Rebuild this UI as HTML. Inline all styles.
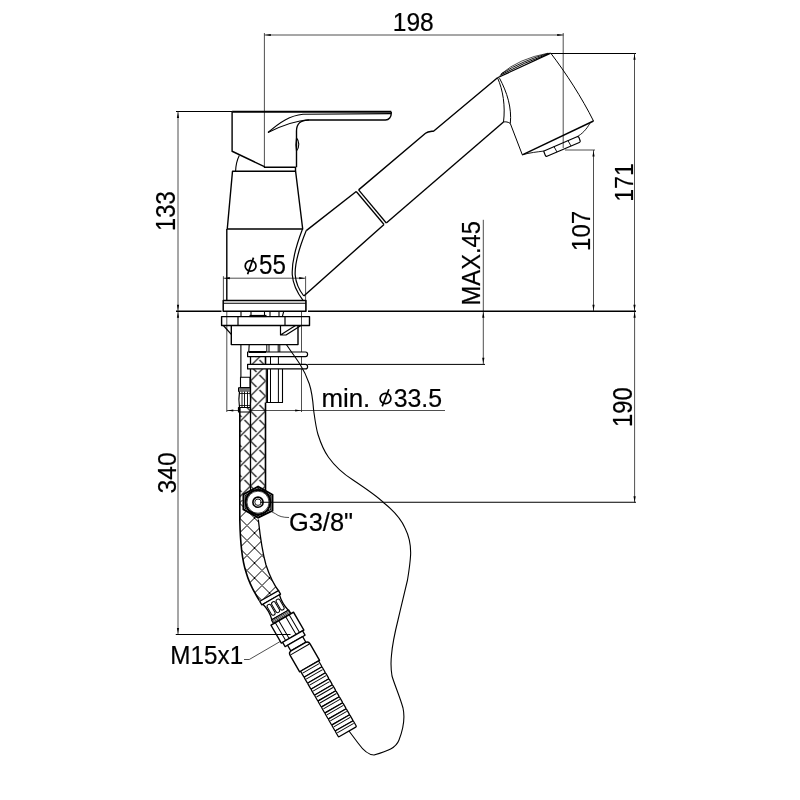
<!DOCTYPE html><html><head><meta charset="utf-8"><style>html,body{margin:0;padding:0;background:#fff;overflow:hidden}svg{display:block;will-change:transform}</style></head><body>
<svg width="800" height="800" viewBox="0 0 800 800">
<rect width="800" height="800" fill="#fff"/>
<line x1="264.4" y1="35" x2="563.5" y2="35" stroke="#222" stroke-width="0.8" />
<line x1="264.4" y1="33" x2="264.4" y2="167.5" stroke="#222" stroke-width="0.8" />
<line x1="563.2" y1="33" x2="563.2" y2="148" stroke="#222" stroke-width="0.8" />
<path d="M265.00,35.00 L270.80,33.90 L270.80,36.10Z" fill="#000" stroke="none"/>
<path d="M563.00,35.00 L557.20,36.10 L557.20,33.90Z" fill="#000" stroke="none"/>
<line x1="551" y1="53.5" x2="636" y2="53.5" stroke="#000" stroke-width="1.0" />
<line x1="634.5" y1="53.2" x2="634.5" y2="311" stroke="#222" stroke-width="0.8" />
<path d="M634.50,54.00 L635.60,59.80 L633.40,59.80Z" fill="#000" stroke="none"/>
<path d="M634.50,310.50 L633.40,304.70 L635.60,304.70Z" fill="#000" stroke="none"/>
<line x1="565" y1="150" x2="595" y2="150" stroke="#222" stroke-width="0.8" />
<line x1="593.5" y1="150" x2="593.5" y2="311" stroke="#222" stroke-width="0.8" />
<path d="M593.50,150.60 L594.60,156.40 L592.40,156.40Z" fill="#000" stroke="none"/>
<path d="M593.50,310.50 L592.40,304.70 L594.60,304.70Z" fill="#000" stroke="none"/>
<line x1="176" y1="111.5" x2="232" y2="111.5" stroke="#000" stroke-width="1.0" />
<line x1="178" y1="111.5" x2="178" y2="634.5" stroke="#222" stroke-width="0.8" />
<path d="M178.00,112.20 L179.10,118.00 L176.90,118.00Z" fill="#000" stroke="none"/>
<path d="M178.00,310.50 L176.90,304.70 L179.10,304.70Z" fill="#000" stroke="none"/>
<path d="M178.00,312.00 L179.10,317.80 L176.90,317.80Z" fill="#000" stroke="none"/>
<path d="M178.00,633.80 L176.90,628.00 L179.10,628.00Z" fill="#000" stroke="none"/>
<line x1="634.6" y1="311" x2="634.6" y2="502.5" stroke="#222" stroke-width="0.8" />
<path d="M634.60,312.00 L635.70,317.80 L633.50,317.80Z" fill="#000" stroke="none"/>
<path d="M634.60,502.00 L633.50,496.20 L635.70,496.20Z" fill="#000" stroke="none"/>
<line x1="483.3" y1="219.8" x2="483.3" y2="364.25" stroke="#222" stroke-width="0.8" />
<line x1="307.5" y1="364.4" x2="485" y2="364.4" stroke="#000" stroke-width="1.0" />
<path d="M483.30,312.00 L484.40,317.80 L482.20,317.80Z" fill="#000" stroke="none"/>
<path d="M483.30,363.60 L482.20,357.80 L484.40,357.80Z" fill="#000" stroke="none"/>
<line x1="176" y1="311.25" x2="221.5" y2="311.25" stroke="#000" stroke-width="1.45" />
<line x1="308" y1="311.25" x2="636" y2="311.25" stroke="#000" stroke-width="1.45" />
<line x1="223.4" y1="278.2" x2="305.3" y2="278.2" stroke="#222" stroke-width="0.8" />
<line x1="223.4" y1="276.2" x2="223.4" y2="311" stroke="#222" stroke-width="0.8" />
<line x1="305.6" y1="276.2" x2="305.6" y2="311" stroke="#222" stroke-width="0.8" />
<path d="M224.00,278.20 L229.80,277.10 L229.80,279.30Z" fill="#000" stroke="none"/>
<path d="M305.00,278.20 L299.20,279.30 L299.20,277.10Z" fill="#000" stroke="none"/>
<line x1="226.8" y1="311" x2="226.8" y2="412" stroke="#222" stroke-width="0.8" />
<line x1="301.5" y1="311" x2="301.5" y2="412" stroke="#222" stroke-width="0.8" />
<line x1="226.8" y1="410.5" x2="445" y2="410.5" stroke="#222" stroke-width="0.8" />
<path d="M227.50,410.50 L233.30,409.40 L233.30,411.60Z" fill="#000" stroke="none"/>
<path d="M301.00,410.50 L295.20,411.60 L295.20,409.40Z" fill="#000" stroke="none"/>
<path d="M271.9,511.9 L275.6,513.8 Q280,517.5 289,517.5" fill="none" stroke="#222" stroke-width="0.8"/>
<path d="M244,659.5 L249.25,659.5 L280,641.6" fill="none" stroke="#222" stroke-width="0.8"/>
<path d="M232.1,111.8 L391.25,111.8" fill="none" stroke="#000" stroke-width="1.9" stroke-linejoin="round" />
<path d="M232.1,111.8 L232.1,151.25 L264.4,166.6 L264.4,167.2 L295.5,167.2 L295.5,171.25" fill="none" stroke="#000" stroke-width="1.4" stroke-linejoin="round" />
<path d="M296.5,167.2 L296.5,131 C296.5,124 301,120 308,120 L385.5,120 C389,120 391.25,117 391.25,113.6 L391.25,111.8" fill="none" stroke="#000" stroke-width="1.4" stroke-linejoin="round" />
<path d="M268,132.5 C280,122 290,115.5 303,114.2 L391,113.6" fill="none" stroke="#000" stroke-width="1.1" stroke-linejoin="round" />
<path d="M268,132.5 C283,125 295,120.5 309,120" fill="none" stroke="#000" stroke-width="1.1" stroke-linejoin="round" />
<path d="M296.5,138 C299.3,141 299.8,147 296.5,151 C295.8,147 295.8,142 296.5,138" fill="none" stroke="#000" stroke-width="1.1" stroke-linejoin="round" />
<path d="M239.3,155.5 C237,160 235.8,165 235.6,171.25" fill="none" stroke="#000" stroke-width="1.1" stroke-linejoin="round" />
<path d="M232.5,171.25 L295.6,171.25 L302.7,229 L227.25,229 Z" fill="none" stroke="#000" stroke-width="1.4" stroke-linejoin="round" />
<path d="M226.8,229 L226.8,300.5" fill="none" stroke="#000" stroke-width="1.4" stroke-linejoin="round" />
<path d="M223.2,300.5 L306,300.5 L306,311.25 L223.2,311.25 Z" fill="none" stroke="#000" stroke-width="1.4" stroke-linejoin="round" />
<path d="M223.2,303.2 L306,303.2" fill="none" stroke="#000" stroke-width="1.1" stroke-linejoin="round" />
<path d="M302.5,229 C296,246 291.5,262 292.3,275 C293,285 297.5,293 303,300.3" fill="none" stroke="#000" stroke-width="1.2" stroke-linejoin="round" />
<path d="M306.25,230.6 C300,246 294.5,262 295.2,275 C296,284.5 299.5,290.5 303.8,296" fill="none" stroke="#000" stroke-width="1.2" stroke-linejoin="round" />
<path d="M306.25,230.6 L356.25,191.5" fill="none" stroke="#000" stroke-width="1.4" stroke-linejoin="round" />
<path d="M356.25,191.5 L384,224.5" fill="none" stroke="#000" stroke-width="1.3" stroke-linejoin="round" />
<path d="M358.6,189.9 L386.3,223" fill="none" stroke="#000" stroke-width="1.3" stroke-linejoin="round" />
<path d="M358.6,189.9 L425.5,133.3 C428,131.5 431,131.5 433.8,131 L497.5,77.75" fill="none" stroke="#000" stroke-width="1.4" stroke-linejoin="round" />
<path d="M303.8,296 L384,224.5" fill="none" stroke="#000" stroke-width="1.4" stroke-linejoin="round" />
<path d="M386.3,223 L503.5,122" fill="none" stroke="#000" stroke-width="1.4" stroke-linejoin="round" />
<path d="M497.5,77.75 C503,90 505.5,106 503.5,122" fill="none" stroke="#000" stroke-width="1.0" stroke-linejoin="round" />
<path d="M499.5,78.2 C507,92 512,108 510.3,123.5" fill="none" stroke="#000" stroke-width="1.0" stroke-linejoin="round" />
<path d="M503.5,122 C505.5,121.5 508.5,122 510.3,123.5" fill="none" stroke="#000" stroke-width="1.0" stroke-linejoin="round" />
<path d="M510.3,123.5 L522.3,154.8" fill="none" stroke="#000" stroke-width="1.0" stroke-linejoin="round" />
<path d="M497.5,77.75 L550.75,53.2" fill="none" stroke="#000" stroke-width="1.3" stroke-linejoin="round" />
<path d="M499.8,75.4 Q524,62.5 549.5,53.3" fill="none" stroke="#000" stroke-width="1.0" stroke-linejoin="round" />
<path d="M501.5,73.6 Q523,60.5 548.5,53.3" fill="none" stroke="#000" stroke-width="0.9" stroke-linejoin="round" />
<path d="M501,74 Q519,58.5 548,53.2" fill="none" stroke="#000" stroke-width="0.7" stroke-linejoin="round" />
<path d="M550.75,53.2 C566,73 582,98 593.5,121" fill="none" stroke="#000" stroke-width="1.0" stroke-linejoin="round" />
<path d="M593.5,121 L522.3,154.8" fill="none" stroke="#000" stroke-width="1.4" stroke-linejoin="round" />
<path d="M590,123.2 C586,130 582,134 577,136.7" fill="none" stroke="#000" stroke-width="0.9" stroke-linejoin="round" />
<path d="M522.3,154.8 C530,152.6 537,152 544,151" fill="none" stroke="#000" stroke-width="0.9" stroke-linejoin="round" />
<path d="M544,151 L577,136.8 C578,136.4 578.6,136.8 579,137.6 L580.2,141 C580.4,141.8 580,142.2 579.3,142.5 L547,156.3 C546.3,156.6 545.7,156.3 545.4,155.6 L544,152 C543.8,151.5 543.7,151.2 544,151 Z" fill="none" stroke="#000" stroke-width="1.2" stroke-linejoin="round" />
<path d="M554,146.6 L557,152" fill="none" stroke="#000" stroke-width="0.9" stroke-linejoin="round" />
<path d="M568,140.6 L571,146" fill="none" stroke="#000" stroke-width="0.9" stroke-linejoin="round" />
<path d="M241,311.25 L241,316.6 M251,311.25 L251,315 M264.5,311.25 L264.5,315 M270,311.25 L270,316.6 M279,311.25 L279,316.6 M283.8,311.25 L282.3,316.6" fill="none" stroke="#000" stroke-width="1.1" stroke-linejoin="round" />
<path d="M249.5,316 L266.5,316" fill="none" stroke="#000" stroke-width="2.2" stroke-linejoin="round" />
<path d="M221.6,316.6 L309.5,316.6 L309.5,325.5 L221.6,325.5 Z" fill="none" stroke="#000" stroke-width="1.4" stroke-linejoin="round" />
<path d="M238,316.6 L238,325.5 M285,316.6 L285,325.5" fill="none" stroke="#000" stroke-width="1.2" stroke-linejoin="round" />
<path d="M231.3,325.5 L231.3,344.6 L298,344.6 L298,325.5" fill="none" stroke="#000" stroke-width="1.4" stroke-linejoin="round" />
<path d="M223.4,325.5 L231.3,334.4" fill="none" stroke="#000" stroke-width="1.2" stroke-linejoin="round" />
<path d="M280.5,325.5 L280.5,335 L286,335 L301,325.5 M280.5,335 L295.5,325.5" fill="none" stroke="#000" stroke-width="1.2" stroke-linejoin="round" />
<path d="M240.9,344.6 L240.9,377.25 M249.2,344.6 L248.75,352" fill="none" stroke="#000" stroke-width="1.1" stroke-linejoin="round" />
<path d="M266.8,344.6 L266.8,352 M269,344.6 L269,352 M278.2,344.6 L278.2,352 M279.8,344.6 L279.8,352" fill="none" stroke="#000" stroke-width="1.0" stroke-linejoin="round" />
<path d="M270.5,356.6 L270.5,364.4 M278.4,356.6 L278.4,364.4" fill="none" stroke="#000" stroke-width="1.0" stroke-linejoin="round" />
<path d="M240.5,377.25 L250,377.25 L250,387.5 L240.5,387.5 Z" fill="none" stroke="#000" stroke-width="1.1" stroke-linejoin="round" />
<path d="M238.5,387.7 L250.5,387.7 L250.5,391.6 L238.5,391.6 Z" fill="#777" stroke="#000" stroke-width="1.0" stroke-linejoin="round" />
<path d="M239.5,391.6 C238.8,396 238.8,403 239.5,407.5 L250.2,407.5 C250.8,403 250.8,396 250.2,391.6" fill="#fff" stroke="#000" stroke-width="1.2" stroke-linejoin="round" />
<path d="M242,391.6 L242,407.5 M244.5,391.6 L244.5,407.5 M247.5,391.6 L247.5,407.5" fill="none" stroke="#000" stroke-width="0.9" stroke-linejoin="round" />
<path d="M239,393.5 L250.5,393.5 M239,405.5 L250.5,405.5" fill="none" stroke="#000" stroke-width="0.8" stroke-linejoin="round" />
<path d="M238.5,407.5 L250.5,407.5 L250.5,412 L238.5,412 Z" fill="#fff" stroke="#000" stroke-width="1.2" stroke-linejoin="round" />
<path d="M266.3,368.9 L266.3,402.5 L282.5,402.5 L282.5,368.9" fill="none" stroke="#000" stroke-width="1.1" stroke-linejoin="round" />
<path d="M267.5,368.9 L267.5,402.5 M270.5,368.9 L270.5,402.5 M278.4,368.9 L278.4,402.5" fill="none" stroke="#000" stroke-width="1.0" stroke-linejoin="round" />
<defs><pattern id="hx" patternUnits="userSpaceOnUse" width="15" height="15" patternTransform="translate(250.5,351)"><path d="M-4,4 L4,-4 M0,15 L15,0 M11,19 L19,11 M0,0 L6,6 M9,9 L15,15 M-4,11 L4,19 M11,-4 L19,4" stroke="#000" stroke-width="1.1" fill="none"/></pattern>
<pattern id="hx2" patternUnits="userSpaceOnUse" width="15" height="15" patternTransform="translate(239.5,503)"><path d="M-4,4 L4,-4 M0,15 L15,0 M11,19 L19,11 M0,0 L15,15 M-4,11 L4,19 M11,-4 L19,4" stroke="#000" stroke-width="1.0" fill="none"/></pattern><clipPath id="cR"><path d="M250.5,352 L265.5,352 L265.5,492 L250.5,492 Z"/></clipPath>
<clipPath id="cL"><path d="M239.8,408 L250.5,408 L250.5,500 L239.8,500 Z"/></clipPath><clipPath id="cL2"><path d="M239.8,500 L250.5,500 C252,505 256,512 258.3,519.5 C260,535 262,551 266,565 C270,577 274,585 278.9,591.25 L259.4,600.6 C254,592 249,583 246,572 C242,560 240.3,545 239.8,520 Z"/></clipPath></defs>
<rect x="230" y="350" width="60" height="260" fill="url(#hx)" clip-path="url(#cR)"/>
<rect x="230" y="350" width="60" height="260" fill="url(#hx)" clip-path="url(#cL)"/>
<rect x="230" y="350" width="60" height="260" fill="url(#hx2)" clip-path="url(#cL2)"/>
<path d="M250.5,352 L250.5,492" fill="none" stroke="#000" stroke-width="1.3" stroke-linejoin="round" />
<path d="M265.5,352 L265.5,368.9 M265.5,402.5 L265.5,492" fill="none" stroke="#000" stroke-width="1.6" stroke-linejoin="round" />
<path d="M239.8,408 L239.8,520 C240.3,545 242,560 246,572 C249,583 254,592 259.4,600.6" fill="none" stroke="#000" stroke-width="1.6" stroke-linejoin="round" />
<path d="M258.3,519.5 C260,535 262,551 266,565 C270,577 274,585 278.9,591.25" fill="none" stroke="#000" stroke-width="1.3" stroke-linejoin="round" />
<path d="M247.6,352 L305.5,352 C307,352 307.6,352.8 307.6,354.3 C307.6,355.8 307,356.6 305.5,356.6 L247.6,356.6 Z" fill="#fff" stroke="#000" stroke-width="1.2" stroke-linejoin="round" />
<path d="M247.6,364.4 L305.5,364.4 C307,364.4 307.6,365.2 307.6,366.7 C307.6,368.2 307,368.9 305.5,368.9 L247.6,368.9 Z" fill="#fff" stroke="#000" stroke-width="1.2" stroke-linejoin="round" />
<path d="M249,352 L266,352" fill="none" stroke="#000" stroke-width="2.0" stroke-linejoin="round" />
<path d="M258.1,486.6 L272.5,494.7 L272.5,510.6 L258.1,517.6 L243.4,509.4 L243.4,494.4 Z" fill="#fff" stroke="#000" stroke-width="1.9"/>
<path d="M258.1,488.6 L270.8,495.8 L270.8,509.5 L258.1,515.6 L245.2,508.3 L245.2,495.5 Z" fill="none" stroke="#000" stroke-width="1.1"/>
<circle cx="258" cy="502.2" r="12.3" fill="none" stroke="#000" stroke-width="2.0"/><circle cx="258" cy="502.2" r="11.0" fill="none" stroke="#000" stroke-width="0.7"/>
<circle cx="258" cy="502.2" r="5.1" fill="none" stroke="#000" stroke-width="1.6"/>
<circle cx="258" cy="502.2" r="3.2" fill="none" stroke="#000" stroke-width="0.9"/>
<path d="M258.1,486.6 L258.1,483 M258.1,517.6 L258.1,520" fill="none" stroke="#000" stroke-width="0" stroke-linejoin="round" />
<path d="M286.5,344.75 C290,350 296,358 300,364.25 C303,369 306.5,376 309.25,383.75 C312,392 313,402 313.6,410 C315,420 316,428 318,434.5 C321,444 324,451 328.5,457.25 C334,465 342,473 353,480 C365,488 377,496 384,503 C394,511 401,519 405,528 C409,536 411,545 410.6,555 C410,565 409,571 407.5,580 C404,595 401,607 398,620 C395,632 392.5,643 391.5,655 C390.5,664 391,670 392,676 C395,686 400,697 403,708 C405,717 404,727 399,740 C396,748 388,751 374,755 C368,755 363,750 358,743 C355,739 352,735 349,731" fill="none" stroke="#000" stroke-width="1.1" stroke-linejoin="round" />
<g transform="translate(269.1,595.9) rotate(-30)" fill="none" stroke="#000" stroke-linejoin="round">
<rect x="-10.8" y="0" width="21.6" height="4.2" rx="0" stroke-width="1.3" fill="#fff"/>
<path d="M-9.5,4.2 C-8,10 -8,16 -9.5,22 L9.5,22 C8,16 8,10 9.5,4.2 Z" stroke-width="1.3" fill="#fff"/>
<rect x="-7.2" y="7" width="4.0" height="12" rx="2" stroke-width="1.0" fill="#fff"/>
<rect x="-2" y="7" width="4" height="12" rx="2" stroke-width="1.0" fill="#fff"/>
<rect x="3.2" y="7" width="4.0" height="12" rx="2" stroke-width="1.0" fill="#fff"/>
<rect x="-10" y="22" width="20" height="4" rx="0" stroke-width="1.2" fill="#fff"/>
<path d="M-10,23.3 L10,23.3 M-10,24.6 L10,24.6" stroke-width="0.7"/>
<rect x="-13" y="26.3" width="26" height="20.7" rx="0" stroke-width="1.4" fill="#fff"/>
<path d="M-8,26.3 L-8,47 M-4,26.3 L-4,47 M4,26.3 L4,47 M8,26.3 L8,47" stroke-width="1.0"/>
<rect x="-11.5" y="47" width="23.0" height="5" rx="0" stroke-width="1.3" fill="#fff"/>
<rect x="-8.7" y="52" width="17.4" height="6.5" rx="0" stroke-width="1.3" fill="#fff"/>
<path d="M-11.5,81 L-11.5,62 Q-11.5,58.5 -8,58.5 L8,58.5 Q11.5,58.5 11.5,62 L11.5,81 Z" stroke-width="1.4" fill="#fff"/>
<path d="M-10.8,61.8 L10.8,61.8" stroke-width="1.0"/>
<rect x="-10.4" y="81.0" width="20.8" height="6.9090909090909065" rx="1.0" stroke-width="1.25" fill="#fff"/>
<path d="M-9.5,83.63 L9.5,83.63" stroke-width="0.9"/>
<rect x="-10.4" y="87.9090909090909" width="20.8" height="6.9090909090909065" rx="1.0" stroke-width="1.25" fill="#fff"/>
<path d="M-9.5,90.53 L9.5,90.53" stroke-width="0.9"/>
<rect x="-10.4" y="94.81818181818181" width="20.8" height="6.9090909090909065" rx="1.0" stroke-width="1.25" fill="#fff"/>
<path d="M-9.5,97.44 L9.5,97.44" stroke-width="0.9"/>
<rect x="-10.4" y="101.72727272727272" width="20.8" height="6.9090909090909065" rx="1.0" stroke-width="1.25" fill="#fff"/>
<path d="M-9.5,104.35 L9.5,104.35" stroke-width="0.9"/>
<rect x="-10.4" y="108.63636363636364" width="20.8" height="6.9090909090909065" rx="1.0" stroke-width="1.25" fill="#fff"/>
<path d="M-9.5,111.26 L9.5,111.26" stroke-width="0.9"/>
<rect x="-10.4" y="115.54545454545455" width="20.8" height="6.9090909090909065" rx="1.0" stroke-width="1.25" fill="#fff"/>
<path d="M-9.5,118.17 L9.5,118.17" stroke-width="0.9"/>
<rect x="-10.4" y="122.45454545454545" width="20.8" height="6.909090909090921" rx="1.0" stroke-width="1.25" fill="#fff"/>
<path d="M-9.5,125.08 L9.5,125.08" stroke-width="0.9"/>
<rect x="-10.4" y="129.36363636363637" width="20.8" height="6.9090909090909065" rx="1.0" stroke-width="1.25" fill="#fff"/>
<path d="M-9.5,131.99 L9.5,131.99" stroke-width="0.9"/>
<rect x="-10.4" y="136.27272727272728" width="20.8" height="6.9090909090909065" rx="1.0" stroke-width="1.25" fill="#fff"/>
<path d="M-9.5,138.90 L9.5,138.90" stroke-width="0.9"/>
<rect x="-10.4" y="143.1818181818182" width="20.8" height="6.9090909090909065" rx="1.0" stroke-width="1.25" fill="#fff"/>
<path d="M-9.5,145.81 L9.5,145.81" stroke-width="0.9"/>
<rect x="-10.4" y="150.0909090909091" width="20.8" height="6.9090909090909065" rx="1.0" stroke-width="1.25" fill="#fff"/>
<path d="M-9.5,152.72 L9.5,152.72" stroke-width="0.9"/>
</g>
<line x1="260" y1="502.25" x2="636" y2="502.25" stroke="#000" stroke-width="1.0" />
<line x1="175.75" y1="634.5" x2="290.5" y2="634.5" stroke="#000" stroke-width="1.0" />
<text font-family="Liberation Sans, sans-serif" stroke="#000" stroke-width="0.2" font-size="26.41" x="392.74" y="31.49" textLength="40.96" lengthAdjust="spacingAndGlyphs">198</text>
<text font-family="Liberation Sans, sans-serif" stroke="#000" stroke-width="0.2" font-size="26.38" transform="translate(632.50,201.85) rotate(-90)" textLength="38.68" lengthAdjust="spacingAndGlyphs">171</text>
<text font-family="Liberation Sans, sans-serif" stroke="#000" stroke-width="0.2" font-size="26.13" transform="translate(590.49,251.03) rotate(-90)" textLength="40.31" lengthAdjust="spacingAndGlyphs">107</text>
<text font-family="Liberation Sans, sans-serif" stroke="#000" stroke-width="0.2" font-size="26.76" transform="translate(175.33,230.90) rotate(-90)" textLength="39.55" lengthAdjust="spacingAndGlyphs">133</text>
<text font-family="Liberation Sans, sans-serif" stroke="#000" stroke-width="0.2" font-size="26.90" transform="translate(632.23,426.90) rotate(-90)" textLength="39.72" lengthAdjust="spacingAndGlyphs">190</text>
<text font-family="Liberation Sans, sans-serif" stroke="#000" stroke-width="0.2" font-size="26.62" transform="translate(175.53,493.38) rotate(-90)" textLength="41.09" lengthAdjust="spacingAndGlyphs">340</text>
<text font-family="Liberation Sans, sans-serif" stroke="#000" stroke-width="0.2" font-size="26.29" transform="translate(480.24,305.40) rotate(-90)" textLength="84.42" lengthAdjust="spacingAndGlyphs">MAX.45</text>
<text font-family="Liberation Sans, sans-serif" stroke="#000" stroke-width="0.2" font-size="26.35" x="288.93" y="531.44" textLength="64.16" lengthAdjust="spacingAndGlyphs">G3/8&quot;</text>
<text font-family="Liberation Sans, sans-serif" stroke="#000" stroke-width="0.2" font-size="26.29" x="170.31" y="663.64" textLength="72.84" lengthAdjust="spacingAndGlyphs">M15x1</text>
<text font-family="Liberation Sans, sans-serif" stroke="#000" stroke-width="0.2" font-size="26.86" x="259.03" y="274.43" textLength="26.89" lengthAdjust="spacingAndGlyphs">55</text>
<text font-family="Liberation Sans, sans-serif" stroke="#000" stroke-width="0.2" font-size="25.41" x="321.44" y="406.80" textLength="48.87" lengthAdjust="spacingAndGlyphs">min.</text>
<text font-family="Liberation Sans, sans-serif" stroke="#000" stroke-width="0.2" font-size="26.13" x="393.70" y="406.54" textLength="48.45" lengthAdjust="spacingAndGlyphs">33.5</text>
<ellipse cx="250.6" cy="265.9" rx="5.4" ry="5.2" fill="none" stroke="#000" stroke-width="1.7"/>
<line x1="247.6" y1="274.2" x2="253.5" y2="257.6" stroke="#000" stroke-width="1.7"/>
<ellipse cx="385.5" cy="398.5" rx="5.4" ry="5.2" fill="none" stroke="#000" stroke-width="1.7"/>
<line x1="382.2" y1="406.4" x2="388.9" y2="389.2" stroke="#000" stroke-width="1.7"/>
</svg></body></html>
